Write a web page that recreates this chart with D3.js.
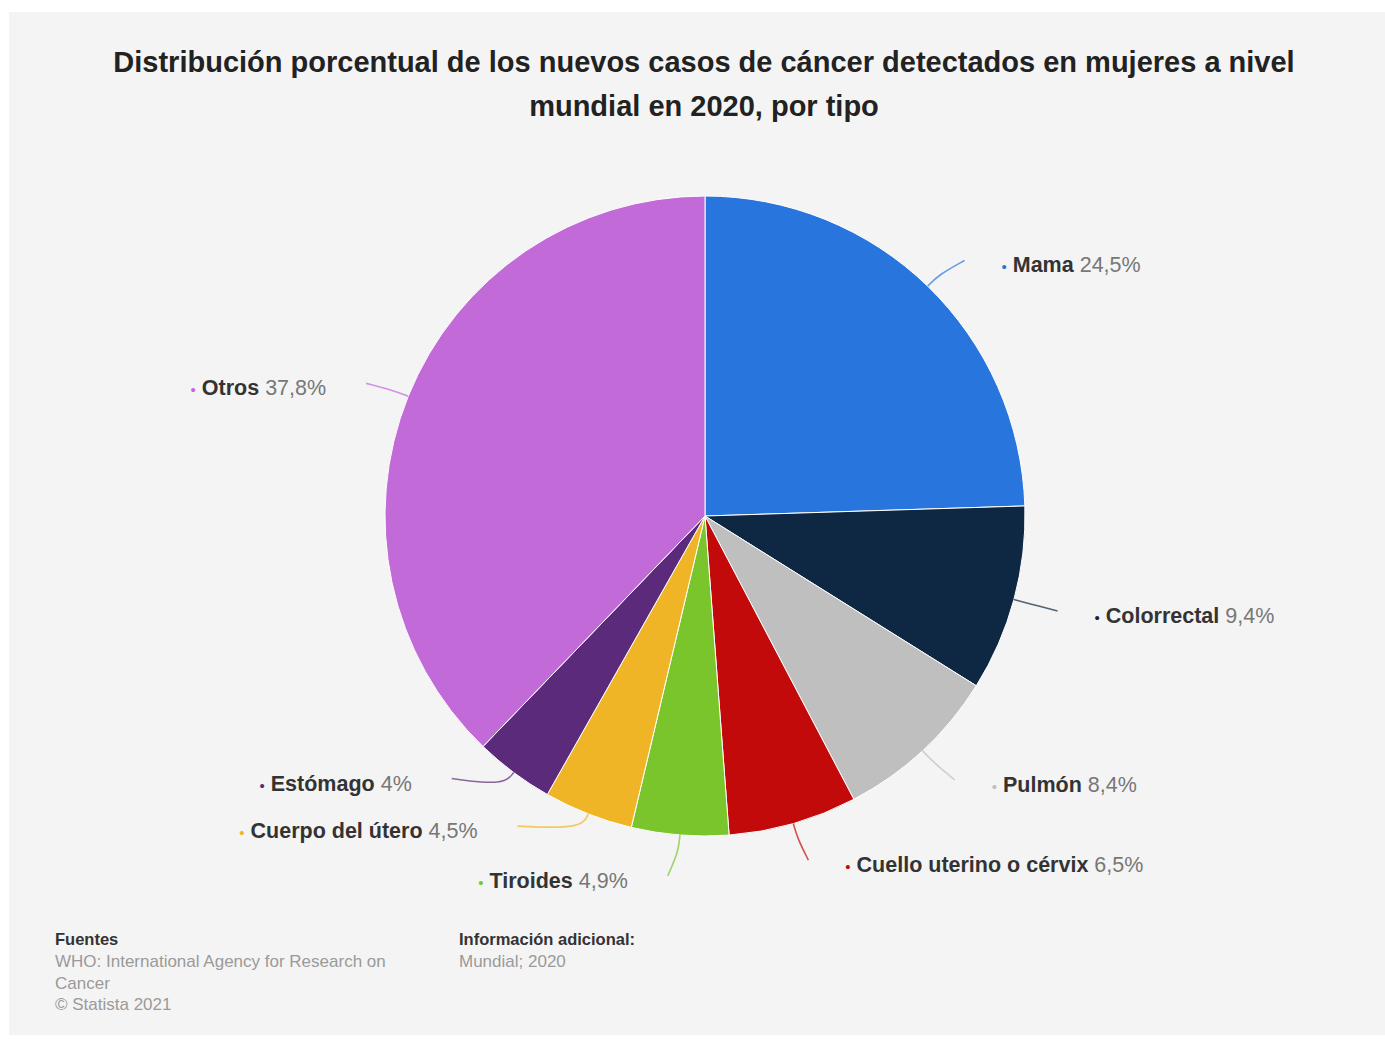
<!DOCTYPE html>
<html>
<head>
<meta charset="utf-8">
<script src="https://cdn.jsdelivr.net/npm/d3@7"></script>
<style>
  body { margin: 0; background: #fff; }
  text { font-family: "Liberation Sans", Arial, sans-serif; }
</style>
</head>
<body>
<div id="vizArea"></div>
<script>
// data, clockwise from the top
const categories = ["Mama", "Colorrectal", "Pulmón", "Cuello uterino o cérvix", "Tiroides", "Cuerpo del útero", "Estómago", "Otros"];
const values = [24.5, 9.4, 8.4, 6.5, 4.9, 4.5, 4, 37.8];
const valueLabels = ["24,5%", "9,4%", "8,4%", "6,5%", "4,9%", "4,5%", "4%", "37,8%"];
const colors = ["#2876dd", "#0e2742", "#bfbfbf", "#c20a0a", "#7ac52b", "#efb526", "#5b2a7a", "#c26ad8"];

const titleLines = ["Distribución porcentual de los nuevos casos de cáncer detectados en mujeres a nivel", "mundial en 2020, por tipo"];
const sourceLines = ["WHO: International Agency for Research on", "Cancer", "© Statista 2021"];
const infoLines = ["Mundial; 2020"];

// label placement tweaks (like highcharts does to avoid overlaps)
const labelNudge = [[9, 3], [5, 1], [5, 0], [4, -2], [-9, 1], [-56, -25], [-38, -26], [-5, 2]];

const width = 1385, height = 1039;
const cx = 705, cy = 516, radius = 320;

const svg = d3.select("#vizArea")
    .append("svg")
    .attr("width", width)
    .attr("height", height);

// grey panel
svg.append("rect")
    .attr("x", 9).attr("y", 12)
    .attr("width", width - 9).attr("height", height - 16)
    .attr("fill", "#f4f4f4");

// title
svg.append("g").selectAll("text")
    .data(titleLines)
    .join("text")
    .attr("x", 704)
    .attr("y", (d, i) => 72 + i * 44)
    .attr("text-anchor", "middle")
    .attr("font-size", 29)
    .attr("font-weight", "bold")
    .attr("fill", "#222")
    .text(d => d);

const pie = d3.pie().sort(null).value(d => d);
const arcs = pie(values);
const arc = d3.arc().innerRadius(0).outerRadius(radius);

const g = svg.append("g").attr("transform", `translate(${cx},${cy})`);

g.selectAll("path.slice")
    .data(arcs)
    .join("path")
    .attr("class", "slice")
    .attr("d", arc)
    .attr("fill", (d, i) => colors[i])
    .attr("stroke", "#ffffff")
    .attr("stroke-width", 1);

// polar helper
const pt = (a, r) => [Math.sin(a) * r, -Math.cos(a) * r];

const line = d3.line().curve(d3.curveBasis);

arcs.forEach((d, i) => {
    const mid = (d.startAngle + d.endAngle) / 2;
    const right = Math.sin(mid) > 0;
    const start = pt(mid, radius);
    const bend = pt(mid, radius + 16);
    const e = pt(mid, radius + 40);
    const end = [e[0] + labelNudge[i][0], e[1] + labelNudge[i][1]];

    g.append("path")
        .attr("d", line([start, bend, end]))
        .attr("fill", "none")
        .attr("stroke", colors[i])
        .attr("stroke-opacity", 0.7)
        .attr("stroke-width", 1.6);

    const lx = end[0] + (right ? 37 : -40);
    const ly = end[1] + 12;

    const t = g.append("text")
        .attr("x", lx)
        .attr("y", ly)
        .attr("text-anchor", right ? "start" : "end")
        .attr("font-size", 21.5);
    t.append("tspan").attr("fill", colors[i]).attr("font-size", 15).text("•");
    t.append("tspan").attr("font-weight", "bold").attr("fill", "#333").text(" " + categories[i]);
    t.append("tspan").attr("fill", "#777").text(" " + valueLabels[i]);
});

// footer
svg.append("text")
    .attr("x", 55).attr("y", 945)
    .attr("font-size", 16.5).attr("font-weight", "bold").attr("fill", "#333")
    .text("Fuentes");
svg.append("g").selectAll("text")
    .data(sourceLines)
    .join("text")
    .attr("x", 55)
    .attr("y", (d, i) => 967 + i * 21.5)
    .attr("font-size", 17)
    .attr("fill", "#9a9a9a")
    .text(d => d);

svg.append("text")
    .attr("x", 459).attr("y", 945)
    .attr("font-size", 16.5).attr("font-weight", "bold").attr("fill", "#333")
    .text("Información adicional:");
svg.append("g").selectAll("text")
    .data(infoLines)
    .join("text")
    .attr("x", 459)
    .attr("y", (d, i) => 967 + i * 21.5)
    .attr("font-size", 17)
    .attr("fill", "#9a9a9a")
    .text(d => d);
</script>
</body>
</html>
